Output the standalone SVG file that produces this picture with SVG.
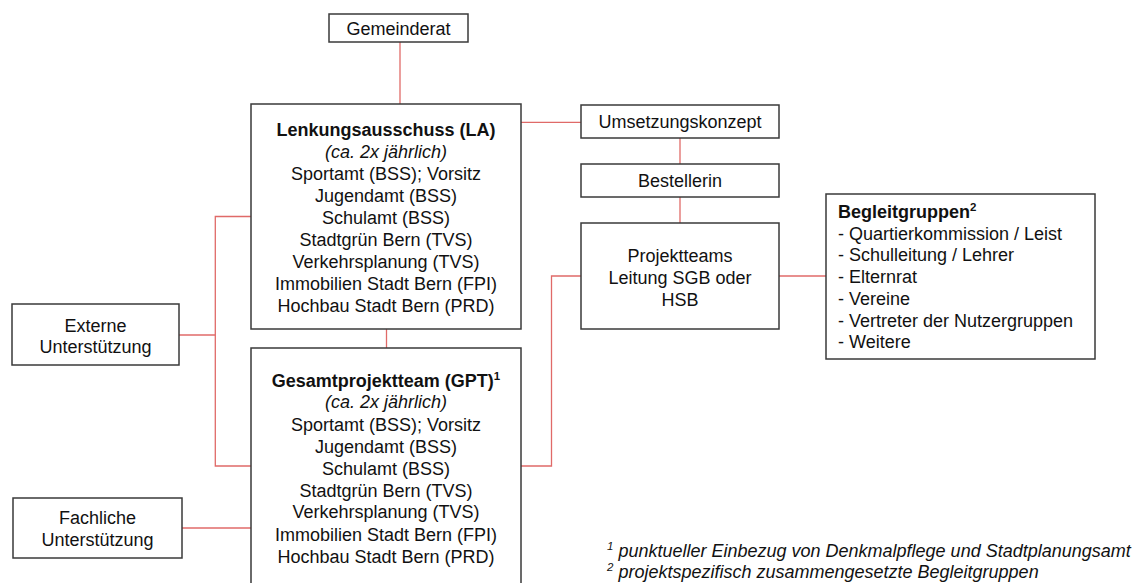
<svg xmlns="http://www.w3.org/2000/svg" width="1146" height="583" viewBox="0 0 1146 583">
<style>
.box{fill:#fff;stroke:#3a3a3a;stroke-width:1.5}
.c{fill:none;stroke:#e06a68;stroke-width:1.3}
text{font-family:"Liberation Sans",Arial,sans-serif;font-size:18px;fill:#111}
.m{text-anchor:middle}
.b{font-weight:bold}
.i{font-style:italic}
.sup{font-size:11.5px}
</style>
<rect width="1146" height="583" fill="#fff"/>
<g id="connectors">
<line class="c" x1="400" y1="42" x2="400" y2="104"/>
<line class="c" x1="521" y1="122.3" x2="581" y2="122.3"/>
<line class="c" x1="680" y1="138" x2="680" y2="164"/>
<line class="c" x1="680" y1="197" x2="680" y2="223"/>
<line class="c" x1="386.5" y1="329" x2="386.5" y2="348"/>
<line class="c" x1="779" y1="276" x2="826" y2="276"/>
<polyline class="c" points="521,466 551.5,466 551.5,276 581,276"/>
<polyline class="c" points="251,216.5 215.3,216.5 215.3,466 251,466"/>
<line class="c" x1="179" y1="335" x2="215.3" y2="335"/>
<line class="c" x1="182" y1="528" x2="251" y2="528"/>
</g>
<g id="gemeinderat">
<rect class="box" x="329" y="14" width="139" height="28"/>
<text class="m" x="398.5" y="34.5">Gemeinderat</text>
</g>
<g id="la">
<rect class="box" x="251" y="104" width="270" height="225"/>
<text class="m b" x="386" y="136">Lenkungsausschuss (LA)</text>
<text class="m i" x="386" y="158">(ca. 2x jährlich)</text>
<text class="m" x="386" y="180">Sportamt (BSS); Vorsitz</text>
<text class="m" x="386" y="202">Jugendamt (BSS)</text>
<text class="m" x="386" y="224">Schulamt (BSS)</text>
<text class="m" x="386" y="246">Stadtgrün Bern (TVS)</text>
<text class="m" x="386" y="267.5">Verkehrsplanung (TVS)</text>
<text class="m" x="386" y="289.5">Immobilien Stadt Bern (FPI)</text>
<text class="m" x="386" y="311.5">Hochbau Stadt Bern (PRD)</text>
</g>
<g id="gpt">
<rect class="box" x="251" y="348" width="270" height="237"/>
<text class="m b" x="386" y="386.5">Gesamtprojektteam (GPT)<tspan class="sup" dy="-7">1</tspan></text>
<text class="m i" x="386" y="408">(ca. 2x jährlich)</text>
<text class="m" x="386" y="430.5">Sportamt (BSS); Vorsitz</text>
<text class="m" x="386" y="452.5">Jugendamt (BSS)</text>
<text class="m" x="386" y="474.5">Schulamt (BSS)</text>
<text class="m" x="386" y="496.5">Stadtgrün Bern (TVS)</text>
<text class="m" x="386" y="518">Verkehrsplanung (TVS)</text>
<text class="m" x="386" y="540.5">Immobilien Stadt Bern (FPI)</text>
<text class="m" x="386" y="562.5">Hochbau Stadt Bern (PRD)</text>
</g>
<g id="umsetzungskonzept">
<rect class="box" x="581" y="105" width="198" height="33"/>
<text class="m" x="680" y="128">Umsetzungskonzept</text>
</g>
<g id="bestellerin">
<rect class="box" x="581" y="164" width="198" height="33"/>
<text class="m" x="680" y="187">Bestellerin</text>
</g>
<g id="projektteams">
<rect class="box" x="581" y="223" width="198" height="106"/>
<text class="m" x="680" y="261.5">Projektteams</text>
<text class="m" x="680" y="283.5">Leitung SGB oder</text>
<text class="m" x="680" y="305.5">HSB</text>
</g>
<g id="begleitgruppen">
<rect class="box" x="826" y="194" width="269" height="165"/>
<text class="b" x="838" y="218">Begleitgruppen<tspan class="sup" dy="-7">2</tspan></text>
<text x="838" y="239.5">- Quartierkommission / Leist</text>
<text x="838" y="261">- Schulleitung / Lehrer</text>
<text x="838" y="283">- Elternrat</text>
<text x="838" y="304.5">- Vereine</text>
<text x="838" y="326.5">- Vertreter der Nutzergruppen</text>
<text x="838" y="348">- Weitere</text>
</g>
<g id="externe">
<rect class="box" x="12" y="304" width="167" height="61"/>
<text class="m" x="95.5" y="331.5">Externe</text>
<text class="m" x="95.5" y="352.5">Unterstützung</text>
</g>
<g id="fachliche">
<rect class="box" x="13" y="498" width="169" height="60"/>
<text class="m" x="97.5" y="523.5">Fachliche</text>
<text class="m" x="97.5" y="545.5">Unterstützung</text>
</g>
<g id="footnotes">
<text class="i" x="607" y="557"><tspan class="sup" dy="-7">1</tspan><tspan dy="7"> punktueller Einbezug von Denkmalpflege und Stadtplanungsamt</tspan></text>
<text class="i" x="607" y="578"><tspan class="sup" dy="-7">2</tspan><tspan dy="7"> projektspezifisch zusammengesetzte Begleitgruppen</tspan></text>
</g>
</svg>
